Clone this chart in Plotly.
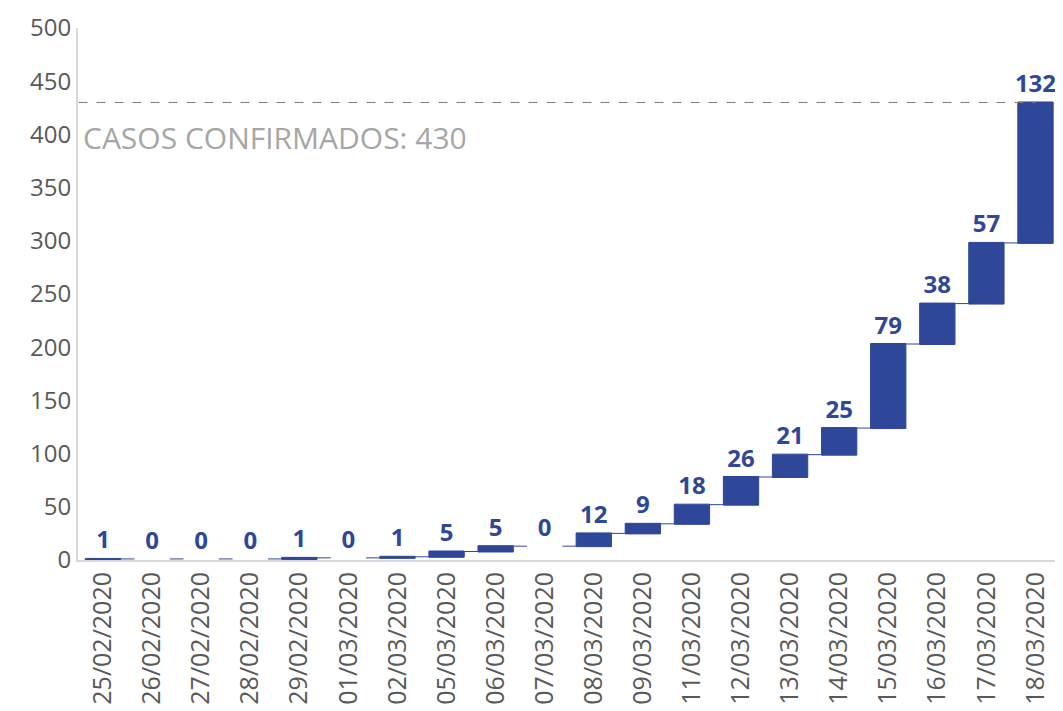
import plotly.graph_objects as go

dates = ['25/02/2020', '26/02/2020', '27/02/2020', '28/02/2020', '29/02/2020',
         '01/03/2020', '02/03/2020', '05/03/2020', '06/03/2020', '07/03/2020',
         '08/03/2020', '09/03/2020', '11/03/2020', '12/03/2020', '13/03/2020',
         '14/03/2020', '15/03/2020', '16/03/2020', '17/03/2020', '18/03/2020']
new_cases = [1, 0, 0, 0, 1, 0, 1, 5, 5, 0, 12, 9, 18, 26, 21, 25, 79, 38, 57, 132]
y_ticks = [0, 50, 100, 150, 200, 250, 300, 350, 400, 450, 500]

total = sum(new_cases)
blue = '#2F4799'
grey_txt = '#595959'


def main():
    fig = go.Figure()
    fig.add_trace(go.Waterfall(
        x=dates,
        y=new_cases,
        measure=['relative'] * len(new_cases),
        text=[str(v) for v in new_cases],
        textposition='outside',
        constraintext='none',
        textfont=dict(family='Open Sans', size=24, color=blue, weight='bold'),
        increasing=dict(marker=dict(color=blue, line=dict(color=blue, width=1))),
        decreasing=dict(marker=dict(color=blue, line=dict(color=blue, width=1))),
        connector=dict(line=dict(color=blue, width=1)),
        cliponaxis=False,
        showlegend=False,
        hoverinfo='x+y',
    ))

    # total line
    fig.add_shape(type='line', xref='x', yref='y',
                  x0=-0.5, x1=len(dates) - 1, y0=total, y1=total,
                  line=dict(color='#7F7F7F', width=1, dash='dash'))
    fig.add_annotation(xref='paper', yref='y', x=0.003, y=total - 33,
                       xanchor='left', yanchor='middle', showarrow=False,
                       text=f'CASOS CONFIRMADOS: {total}',
                       font=dict(family='Open Sans', size=30, color='#A6A6A6'))

    # page body has an 8px margin, so the figure is a bit smaller than the window
    fig.update_layout(
        width=1055, height=703,
        margin=dict(l=70, r=3, t=20, b=151, autoexpand=False),
        plot_bgcolor='white', paper_bgcolor='white',
        waterfallgap=0.28,
        font=dict(family='Open Sans', color=grey_txt),
        xaxis=dict(type='category', tickangle=-90, automargin=False,
                   tickfont=dict(size=25, color=grey_txt),
                   showline=True, linecolor='#D9D9D9', linewidth=2,
                   showgrid=False, ticks=''),
        yaxis=dict(range=[0, 500], tickvals=y_ticks, automargin=False,
                   tickfont=dict(size=24, color=grey_txt),
                   showline=True, linecolor='#D9D9D9', linewidth=2,
                   showgrid=False, zeroline=False, ticks=''),
    )

    fig.write_html('out.html')


if __name__ == '__main__':
    main()
